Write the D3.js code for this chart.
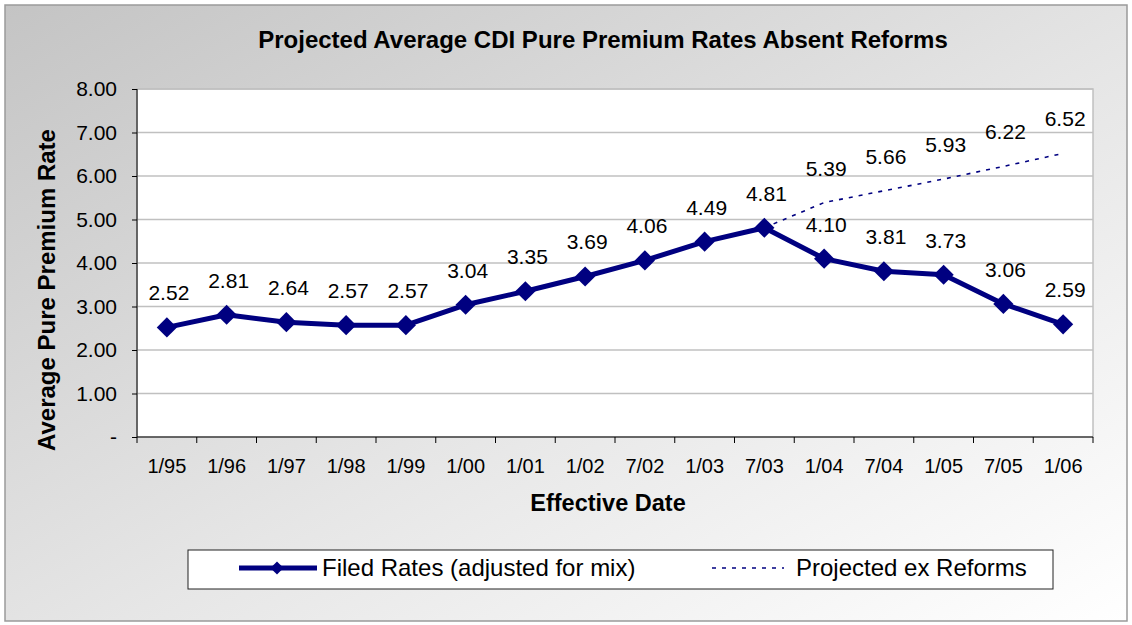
<!DOCTYPE html>
<html>
<head>
<meta charset="utf-8">
<script src="https://cdn.jsdelivr.net/npm/d3@7"></script>
<style>
  body { margin: 0; background: #fff; }
  svg { display: block; font-family: "Liberation Sans", Arial, sans-serif; }
</style>
</head>
<body>
<div id="chart"></div>
<script>
// data
const dates = ['1/95', '1/96', '1/97', '1/98', '1/99', '1/00', '1/01', '1/02', '7/02', '1/03', '7/03', '1/04', '7/04', '1/05', '7/05', '1/06'];
const filedRates = [2.52, 2.81, 2.64, 2.57, 2.57, 3.04, 3.35, 3.69, 4.06, 4.49, 4.81, 4.10, 3.81, 3.73, 3.06, 2.59];
const projectedDates = ['7/03', '1/04', '7/04', '1/05', '7/05', '1/06'];
const projectedRates = [4.81, 5.39, 5.66, 5.93, 6.22, 6.52];
const yTicks = [0, 1, 2, 3, 4, 5, 6, 7, 8];

const W = 1132, H = 625;
const plot = { left: 137, right: 1093, top: 89, bottom: 437 };
const navy = '#000080';

const svg = d3.select('#chart').append('svg')
  .attr('width', W)
  .attr('height', H);

// gradient background of the chart area
const defs = svg.append('defs');
const grad = defs.append('linearGradient')
  .attr('id', 'bg')
  .attr('x1', '0%').attr('y1', '0%')
  .attr('x2', '100%').attr('y2', '100%');
grad.append('stop').attr('offset', '0%').attr('stop-color', '#c4c4c4');
grad.append('stop').attr('offset', '55%').attr('stop-color', '#e6e6e6');
grad.append('stop').attr('offset', '100%').attr('stop-color', '#ffffff');

svg.append('rect')
  .attr('x', 5).attr('y', 5)
  .attr('width', 1122).attr('height', 616)
  .attr('fill', 'url(#bg)')
  .attr('stroke', '#9a9a9a')
  .attr('stroke-width', 1.5);

const x = d3.scaleBand()
  .domain(dates)
  .range([plot.left, plot.right]);

const y = d3.scaleLinear()
  .domain([0, 8])
  .range([plot.bottom, plot.top]);

const cx = (d) => x(d) + x.bandwidth() / 2;

// plot area
svg.append('rect')
  .attr('x', plot.left).attr('y', plot.top)
  .attr('width', plot.right - plot.left)
  .attr('height', plot.bottom - plot.top)
  .attr('fill', '#fff')
  .attr('stroke', '#c0c0c0')
  .attr('stroke-width', 1.5);

// gridlines
svg.append('g')
  .selectAll('line')
  .data(yTicks.filter(t => t > 0))
  .join('line')
  .attr('x1', plot.left).attr('x2', plot.right)
  .attr('y1', d => y(d)).attr('y2', d => y(d))
  .attr('stroke', '#c0c0c0')
  .attr('stroke-width', 1.5);

// y axis
const yAxis = svg.append('g')
  .attr('transform', `translate(${plot.left},0)`)
  .call(d3.axisLeft(y)
    .tickValues(yTicks)
    .tickSize(5)
    .tickPadding(15)
    .tickFormat(d => d === 0 ? '-' : d3.format('.2f')(d)));
yAxis.select('.domain').attr('stroke', '#000').attr('d', `M0,${plot.top}V${plot.bottom}`);
yAxis.selectAll('.tick line').attr('stroke', '#000');
yAxis.selectAll('text')
  .attr('font-size', 21)
  .attr('fill', '#000')
  .style('font-family', '"Liberation Sans", Arial, sans-serif');

// x axis: ticks on band boundaries
const xAxis = svg.append('g')
  .attr('transform', `translate(0,${plot.bottom})`);
xAxis.append('line')
  .attr('x1', plot.left).attr('x2', plot.right)
  .attr('stroke', '#000');
xAxis.selectAll('.xtick')
  .data(dates.concat(['end']))
  .join('line')
  .attr('class', 'xtick')
  .attr('x1', (d, i) => i < dates.length ? x(d) : plot.right)
  .attr('x2', (d, i) => i < dates.length ? x(d) : plot.right)
  .attr('y1', 0).attr('y2', 6)
  .attr('stroke', '#000');
xAxis.selectAll('.xlab')
  .data(dates)
  .join('text')
  .attr('class', 'xlab')
  .attr('x', d => cx(d))
  .attr('y', 36)
  .attr('text-anchor', 'middle')
  .attr('font-size', 20)
  .text(d => d);

// titles
svg.append('text')
  .attr('x', 603).attr('y', 48)
  .attr('text-anchor', 'middle')
  .attr('font-size', 24)
  .attr('font-weight', 'bold')
  .text('Projected Average CDI Pure Premium Rates Absent Reforms');

svg.append('text')
  .attr('x', 608).attr('y', 511)
  .attr('text-anchor', 'middle')
  .attr('font-size', 23.5)
  .attr('font-weight', 'bold')
  .text('Effective Date');

svg.append('text')
  .attr('transform', 'translate(55,290) rotate(-90)')
  .attr('text-anchor', 'middle')
  .attr('font-size', 24)
  .attr('font-weight', 'bold')
  .text('Average Pure Premium Rate');

// projected dotted line
const projData = projectedDates.map((d, i) => ({ date: d, value: projectedRates[i] }));
const filedData = dates.map((d, i) => ({ date: d, value: filedRates[i] }));

const line = d3.line()
  .x(d => cx(d.date))
  .y(d => y(d.value));

svg.append('path')
  .datum(projData)
  .attr('d', line)
  .attr('fill', 'none')
  .attr('stroke', navy)
  .attr('stroke-width', 1.6)
  .attr('stroke-dasharray', '4,6');

svg.append('path')
  .datum(filedData)
  .attr('d', line)
  .attr('fill', 'none')
  .attr('stroke', navy)
  .attr('stroke-width', 5)
  .attr('stroke-linejoin', 'round');

const diamond = d3.symbol().type(d3.symbolDiamond2).size(260);

svg.selectAll('.marker')
  .data(filedData)
  .join('path')
  .attr('class', 'marker')
  .attr('d', diamond)
  .attr('transform', d => `translate(${cx(d.date)},${y(d.value)})`)
  .attr('fill', navy);

// data labels
const labelStyle = (sel) => sel
  .attr('text-anchor', 'middle')
  .attr('font-size', 21)
  .attr('fill', '#000');

svg.selectAll('.flab')
  .data(filedData)
  .join('text')
  .attr('class', 'flab')
  .attr('x', d => cx(d.date) + 2)
  .attr('y', d => y(d.value) - 27)
  .call(labelStyle)
  .text(d => d3.format('.2f')(d.value));

svg.selectAll('.plab')
  .data(projData.slice(1))
  .join('text')
  .attr('class', 'plab')
  .attr('x', d => cx(d.date) + 2)
  .attr('y', d => y(d.value) - 27)
  .call(labelStyle)
  .text(d => d3.format('.2f')(d.value));

// legend
const legend = svg.append('g');
legend.append('rect')
  .attr('x', 188).attr('y', 550)
  .attr('width', 865).attr('height', 39)
  .attr('fill', '#fff')
  .attr('stroke', '#222')
  .attr('stroke-width', 1);
legend.append('line')
  .attr('x1', 239).attr('x2', 317)
  .attr('y1', 568).attr('y2', 568)
  .attr('stroke', navy)
  .attr('stroke-width', 5);
legend.append('path')
  .attr('d', d3.symbol().type(d3.symbolDiamond2).size(110))
  .attr('transform', 'translate(277,568)')
  .attr('fill', navy);
legend.append('text')
  .attr('x', 322).attr('y', 576)
  .attr('font-size', 24)
  .text('Filed Rates (adjusted for mix)');
legend.append('line')
  .attr('x1', 712).attr('x2', 784)
  .attr('y1', 568).attr('y2', 568)
  .attr('stroke', navy)
  .attr('stroke-width', 1.6)
  .attr('stroke-dasharray', '4,6');
legend.append('text')
  .attr('x', 796).attr('y', 576)
  .attr('font-size', 24)
  .text('Projected ex Reforms');
</script>
</body>
</html>
